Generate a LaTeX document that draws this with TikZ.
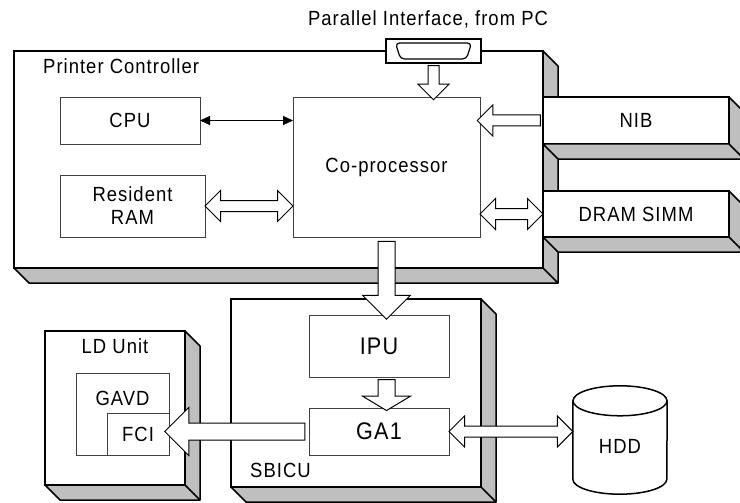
\documentclass[tikz,border=0pt]{standalone}
\usepackage{fontspec}
\setmainfont{Liberation Sans}[FakeStretch=0.9, LetterSpace=5]
\usetikzlibrary{calc,shapes.arrows,arrows.meta}

\tikzset{ % looks of the blocks
  every node/.style={font=\fontsize{20.5}{23}\selectfont},
  frontbox/.style={draw=black, line width=1.5pt, fill=white, inner sep=0pt, outer sep=0pt},
  sidebox/.style={draw=black, line width=1.5pt, fill=black!25, line join=round},
  sideedge/.style={draw=black, line width=1.5pt},
  unitbox/.style={draw=black!75, line width=0.8pt, fill=white, inner sep=0pt, outer sep=0pt, align=center},
  bigtext/.style={font=\fontsize{24}{28}\selectfont},
  caption/.style={inner sep=0pt},
  thinlink/.style={line width=1pt, {Triangle[length=10pt,width=9pt]}-{Triangle[length=10pt,width=9pt]}},
  % hollow bus arrows
  smallbus/.style={single arrow, draw, fill=white, line width=1pt, inner xsep=0pt, inner ysep=5pt, outer sep=0pt,
    single arrow head extend=10pt, single arrow tip angle=90, single arrow head indent=0pt},
  smallboth/.style={double arrow, draw, fill=white, line width=1pt, inner xsep=0pt, inner ysep=5pt, outer sep=0pt,
    double arrow head extend=10pt, double arrow tip angle=90, double arrow head indent=0pt},
  bigbus/.style={single arrow, draw, fill=white, line width=1pt, inner xsep=0pt, inner ysep=8pt, outer sep=0pt,
    single arrow head extend=15.5pt, single arrow tip angle=90, single arrow head indent=0pt},
  flatbus/.style={bigbus, single arrow tip angle=118}
}

% grey side and bottom faces of a block
\newcommand{\boxside}[1]{%
  \filldraw[sidebox] (#1.north east) -- ++(15,15) |- ($(#1.south west)+(15,15)$) -- (#1.south west) -- (#1.south east) -- cycle;
  \draw[sideedge] (#1.south east) -- ++(15,15);}

% hollow arrow from one point to another
\newcommand{\busarrow}[3]{%
  \path let \p1=#2, \p2=#3, \n1={veclen(\x2-\x1,\y2-\y1)}, \n2={atan2(\y2-\y1,\x2-\x1)}
    in node[#1, minimum height=\n1, rotate=\n2] at ($(\p1)!.5!(\p2)$) {};}

\begin{document}
\begin{tikzpicture}[x=1pt, y=-1pt]
\useasboundingbox (0,0) rectangle (740,503);

% printer controller
\node[frontbox, minimum width=529pt, minimum height=217pt] (pc) at (278.5,159.5) {};
\boxside{pc}
\node[caption, anchor=base west] (pclabel) at ($(pc.north west)+(29,23)$) {Printer Controller};

\node[frontbox, minimum width=186pt, minimum height=47pt] (nib) at (636,120.5) {NIB};
\boxside{nib}
\node[frontbox, minimum width=186pt, minimum height=46pt] (dram) at (636,214) {DRAM SIMM};
\boxside{dram}

\node[unitbox, minimum width=187pt, minimum height=140pt] (cop) at (386.5,167) {Co-processor};
\node[unitbox, minimum width=140pt, minimum height=47pt] (cpu) at (130,120.5) {CPU};
\node[unitbox, minimum width=145pt, minimum height=62pt] (ram) at (132.5,206) {Resident\\RAM};

% parallel port
\node[frontbox, minimum width=95pt, minimum height=24pt] (par) at (433.5,51) {};
\draw[line width=1.2pt, rounded corners=4pt] ($(par.center)+(-38,-8)$) -- ($(par.center)+(38,-8)$)
  -- ($(par.center)+(33,8)$) -- ($(par.center)+(-33,8)$) -- cycle;
\node[caption, anchor=base] (partitle) at ($(par.north)+(-5.5,-13)$) {Parallel Interface, from PC};

% SBICU
\node[frontbox, minimum width=250pt, minimum height=188pt] (sbicu) at (356,393) {};
\boxside{sbicu}
\node[caption, anchor=base west] (sbiculabel) at ($(sbicu.south west)+(19,-10)$) {SBICU};
\node[unitbox, bigtext, minimum width=140pt, minimum height=62pt] (ipu) at (379,346) {IPU};
\node[unitbox, bigtext, minimum width=140pt, minimum height=47pt] (ga) at (379,431.5) {GA1};

% LD unit
\node[frontbox, minimum width=140pt, minimum height=154pt] (ld) at (115,408) {};
\boxside{ld}
\node[caption, anchor=base] (ldlabel) at ($(ld.north)+(0,22)$) {LD Unit};
\node[unitbox, minimum width=93pt, minimum height=82pt] (gavd) at (122.5,414) {};
\node[caption, anchor=base] (gavdlabel) at ($(gavd.north)+(0,32)$) {GAVD};
\node[unitbox, minimum width=62pt, minimum height=42pt] (fci) at (138,434) {FCI};

% hard disk
\node[inner sep=0pt, minimum width=94pt, minimum height=108pt] (hdd) at (620,440) {};
\filldraw[fill=white, line width=1.5pt] ($(hdd.north west)+(0,15)$) -- ($(hdd.south west)+(0,-15)$)
  arc[start angle=180, end angle=0, x radius=47, y radius=15] -- ($(hdd.north east)+(0,15)$);
\draw[line width=1.5pt] ($(hdd.north)+(0,15)$) ellipse [x radius=47, y radius=15];
\node[caption] (hddlabel) at ($(hdd.center)+(0,6)$) {HDD};

% links
\draw[thinlink] (cpu.east) -- (cpu.east -| cop.west);
\busarrow{smallbus}{(par.south)}{(par.south |- cop.north)}
\busarrow{smallbus}{(nib.west)}{(nib.west -| cop.east)}
\busarrow{smallboth}{(ram.east)}{(ram.east -| cop.west)}
\busarrow{smallboth}{(dram.west)}{(dram.west -| cop.east)}
\busarrow{bigbus}{(cop.south)}{(cop.south |- ipu.north)}
\busarrow{flatbus}{(cop.south |- ipu.south)}{(cop.south |- ga.north)}
\busarrow{bigbus}{(ga.west)}{(ga.west -| fci.east)}
\busarrow{smallboth}{(ga.east)}{(ga.east -| hdd.west)}

\end{tikzpicture}
\end{document}
